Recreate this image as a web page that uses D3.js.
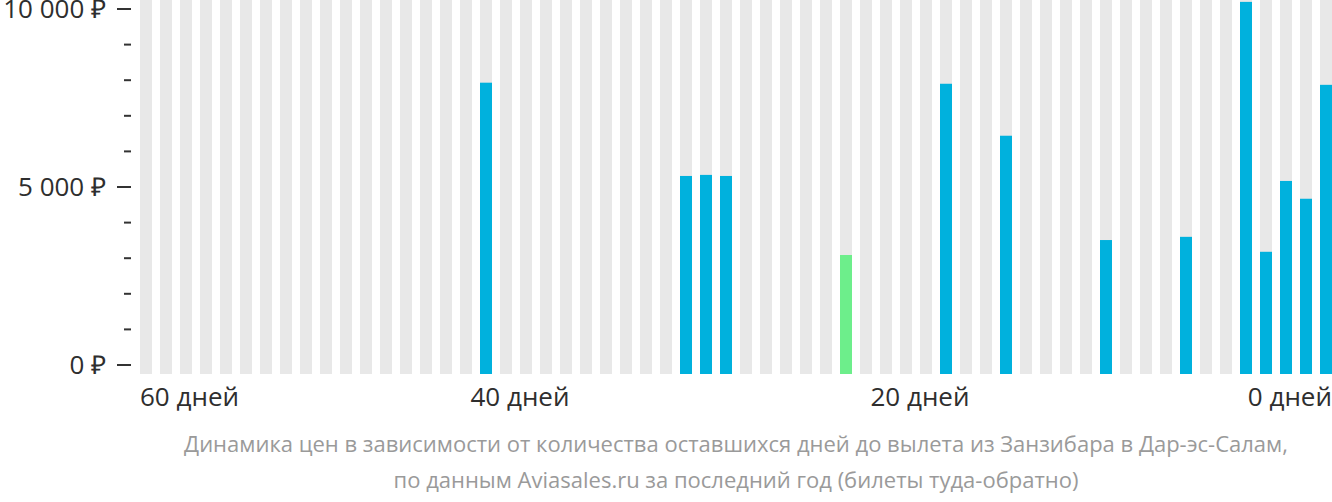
<!DOCTYPE html>
<html><head><meta charset="utf-8">
<script src="https://cdn.jsdelivr.net/npm/d3@7"></script>
<style>
html,body{margin:0;padding:0;background:#fff;}
svg{display:block;font-family:"Open Sans",sans-serif;}
</style></head>
<body>
<svg id="chart" width="1332" height="502"></svg>
<script>
// days before departure (59 .. 0), one bar each
const days = d3.range(59, -1, -1);
// prices in rubles for days with data
const priceDays   = [42, 32, 31, 30, 24, 19, 16, 11, 7, 4, 3, 2, 1, 0];
const priceValues = [7930, 5310, 5340, 5310, 3090, 7900, 6440, 3510, 3600, 10200, 3180, 5170, 4670, 7870];
const cheapestDay = 24;
const yTicksMajor = [0, 5000, 10000];
const yTicksMinor = [1000, 2000, 3000, 4000, 6000, 7000, 8000, 9000];
const xLabelDays = [60, 40, 20, 0];
const captionLines = [
  "Динамика цен в зависимости от количества оставшихся дней до вылета из Занзибара в Дар-эс-Салам,",
  "по данным Aviasales.ru за последний год (билеты туда-обратно)"
];

const svg = d3.select("#chart");
const left = 140, right = 1332;

const x = d3.scaleBand().domain(days).range([left, right]).paddingInner(0.4).paddingOuter(0);
const xl = d3.scaleLinear().domain([59, 0]).range([x(59), x(0)]);
const y = d3.scaleLinear().domain([0, 10000]).range([365, 9]);
const base = y(0) + 9;

// background bars
svg.append("g").selectAll("rect").data(days).join("rect")
  .attr("x", d => x(d)).attr("width", x.bandwidth())
  .attr("y", 0).attr("height", base)
  .attr("fill", "#e8e8e8");

const data = priceDays.map((d, i) => ({day: d, v: priceValues[i]}));
svg.append("g").selectAll("rect").data(data).join("rect")
  .attr("x", d => x(d.day)).attr("width", x.bandwidth())
  .attr("y", d => y(d.v)).attr("height", d => base - y(d.v))
  .attr("fill", d => d.day === cheapestDay ? "#6dee8b" : "#00b1dd");

// y axis
const fmt = v => d3.format(",")(v).replace(/,/g, "\u00a0") + "\u00a0₽";
const ya = svg.append("g");
ya.selectAll("line.maj").data(yTicksMajor).join("line")
  .attr("x1", 117).attr("x2", 131).attr("y1", d => y(d)).attr("y2", d => y(d))
  .attr("stroke", "#333").attr("stroke-width", 2);
ya.selectAll("line.min").data(yTicksMinor).join("line")
  .attr("x1", 124).attr("x2", 131).attr("y1", d => y(d)).attr("y2", d => y(d))
  .attr("stroke", "#333").attr("stroke-width", 2);
ya.selectAll("text").data(yTicksMajor).join("text")
  .attr("x", 106).attr("y", d => y(d)).attr("dy", "0.36em")
  .attr("text-anchor", "end").attr("font-size", 26).attr("fill", "#2e2e2e")
  .text(fmt);

// x labels
svg.append("g").selectAll("text").data(xLabelDays).join("text")
  .attr("x", d => d === 60 ? left : d === 0 ? right : xl(d))
  .attr("y", 406)
  .attr("text-anchor", d => d === 60 ? "start" : d === 0 ? "end" : "middle")
  .attr("font-size", 26).attr("fill", "#2e2e2e")
  .text(d => d + " дней");

// caption
svg.append("g").selectAll("text").data(captionLines).join("text")
  .attr("x", (left + right) / 2).attr("y", (d, i) => 452 + i * 36)
  .attr("text-anchor", "middle").attr("font-size", 22).attr("fill", "#9a9a9a")
  .text(d => d);
</script>
</body></html>
